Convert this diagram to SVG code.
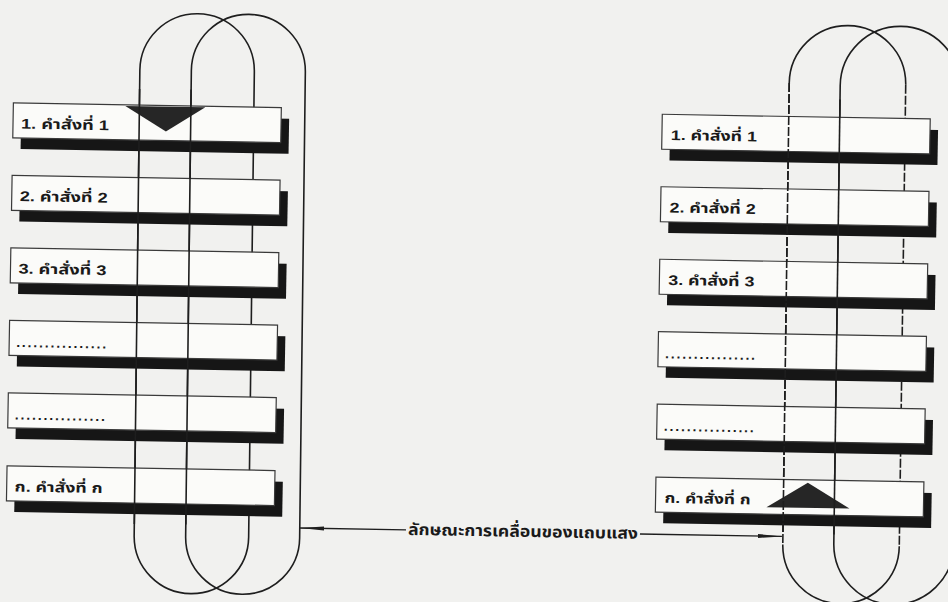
<svg xmlns="http://www.w3.org/2000/svg" width="948" height="602" viewBox="0 0 948 602">
<style>
.band{fill:none;stroke:#1e1e1e;stroke-width:1.6}
.dash{stroke-dasharray:9 2}
.box{fill:#fbfbf9;stroke:#3a3a3a;stroke-width:1.2}
.shadow{fill:#161616}
.lbl{font-family:"Liberation Sans","Noto Sans Thai","Noto Sans",sans-serif;font-weight:bold;font-size:14px;fill:#1a1a1a}
.cap{font-family:"Liberation Sans","Noto Sans Thai","Noto Sans",sans-serif;font-weight:bold;font-size:16px;fill:#1a1a1a}
.tri{fill:#262626}
.conn{stroke:#1e1e1e;stroke-width:1.4;fill:none}
</style>
<defs>
<marker id="arr" viewBox="0 0 24 6" refX="24" refY="3" markerWidth="24" markerHeight="6" markerUnits="userSpaceOnUse" orient="auto">
<path d="M0,1 L24,3 L0,5 Z" fill="#1e1e1e"/>
</marker>
</defs>
<rect width="948" height="602" fill="#f1f1ef"/>

<g id="left-band" transform="rotate(0.7 220 304)">
<rect class="band" x="137" y="14" width="114.5" height="580" rx="57.25"/>
<rect class="band" x="188.5" y="14" width="114" height="580" rx="57"/>
</g>

<g id="right-band" transform="rotate(0.8 870 315)">
<path class="band" d="M786,84.25 A58.25,58.25 0 0 1 902.5,84.25 M786,545.75 A58.25,58.25 0 0 0 902.5,545.75"/>
<path class="band dash" d="M786,84.25 V545.75 M902.5,84.25 V545.75"/>
<rect class="band" x="837" y="26" width="120" height="578" rx="60"/>
</g>

<g transform="rotate(1 474 301)">
<g id="left-1">
<rect class="shadow" x="18" y="122" width="268" height="35"/>
<rect class="box" x="10" y="111" width="268" height="35"/>
<text class="lbl" x="18" y="136.5" textLength="88" lengthAdjust="spacingAndGlyphs">1. คำสั่งที่ 1</text>
<polygon class="tri" points="122,112 202,112 163,137"/>
</g>
<g id="left-2">
<rect class="shadow" x="18" y="194.5" width="268" height="35"/>
<rect class="box" x="10" y="183.5" width="268" height="35"/>
<text class="lbl" x="18" y="209" textLength="88" lengthAdjust="spacingAndGlyphs">2. คำสั่งที่ 2</text>
</g>
<g id="left-3">
<rect class="shadow" x="18" y="267" width="268" height="35"/>
<rect class="box" x="10" y="256" width="268" height="35"/>
<text class="lbl" x="18" y="281.5" textLength="88" lengthAdjust="spacingAndGlyphs">3. คำสั่งที่ 3</text>
</g>
<g id="left-4">
<rect class="shadow" x="18" y="339.5" width="268" height="35"/>
<rect class="box" x="10" y="328.5" width="268" height="35"/>
<text class="lbl" x="17" y="355" textLength="90" lengthAdjust="spacing">................</text>
</g>
<g id="left-5">
<rect class="shadow" x="18" y="412" width="268" height="35"/>
<rect class="box" x="10" y="401" width="268" height="35"/>
<text class="lbl" x="17" y="427.5" textLength="90" lengthAdjust="spacing">................</text>
</g>
<g id="left-6">
<rect class="shadow" x="18" y="485" width="268" height="35"/>
<rect class="box" x="10" y="474" width="268" height="35"/>
<text class="lbl" x="18" y="499.5" textLength="88" lengthAdjust="spacingAndGlyphs">ก. คำสั่งที่ ก</text>
</g>

<g id="right-1">
<rect class="shadow" x="667" y="122" width="268" height="35"/>
<rect class="box" x="659" y="111" width="268" height="35"/>
<text class="lbl" x="668" y="136.5" textLength="86" lengthAdjust="spacingAndGlyphs">1. คำสั่งที่ 1</text>
</g>
<g id="right-2">
<rect class="shadow" x="667" y="194.5" width="268" height="35"/>
<rect class="box" x="659" y="183.5" width="268" height="35"/>
<text class="lbl" x="668" y="209" textLength="86" lengthAdjust="spacingAndGlyphs">2. คำสั่งที่ 2</text>
</g>
<g id="right-3">
<rect class="shadow" x="667" y="267" width="268" height="35"/>
<rect class="box" x="659" y="256" width="268" height="35"/>
<text class="lbl" x="668" y="281.5" textLength="86" lengthAdjust="spacingAndGlyphs">3. คำสั่งที่ 3</text>
</g>
<g id="right-4">
<rect class="shadow" x="667" y="339.5" width="268" height="35"/>
<rect class="box" x="659" y="328.5" width="268" height="35"/>
<text class="lbl" x="666" y="355" textLength="90" lengthAdjust="spacing">................</text>
</g>
<g id="right-5">
<rect class="shadow" x="667" y="412" width="268" height="35"/>
<rect class="box" x="659" y="401" width="268" height="35"/>
<text class="lbl" x="666" y="427.5" textLength="90" lengthAdjust="spacing">................</text>
</g>
<g id="right-6">
<rect class="shadow" x="667" y="485" width="268" height="35"/>
<rect class="box" x="659" y="474" width="268" height="35"/>
<text class="lbl" x="668" y="499.5" textLength="86" lengthAdjust="spacingAndGlyphs">ก. คำสั่งที่ ก</text>
<polygon class="tri" points="770,502 853,502 811,477"/>
</g>
</g>

<g id="left-band-front" transform="rotate(0.7 220 304)">
<path class="band" d="M137,90 V525 M188.5,90 V525"/>
</g>
<g id="right-band-front" transform="rotate(0.8 870 315)">
<path class="band dash" d="M786,84.25 V535"/>
<path class="band" d="M837,100 V535"/>
</g>

<g id="connectors" transform="rotate(1 474 301)">
<path class="conn" d="M410,531 H304" marker-end="url(#arr)"/>
<path class="conn" d="M644,531 H786" marker-end="url(#arr)"/>
<text class="cap" x="412" y="536" textLength="230" lengthAdjust="spacingAndGlyphs">ลักษณะการเคลื่อนของแถบแสง</text>
</g>
</svg>
